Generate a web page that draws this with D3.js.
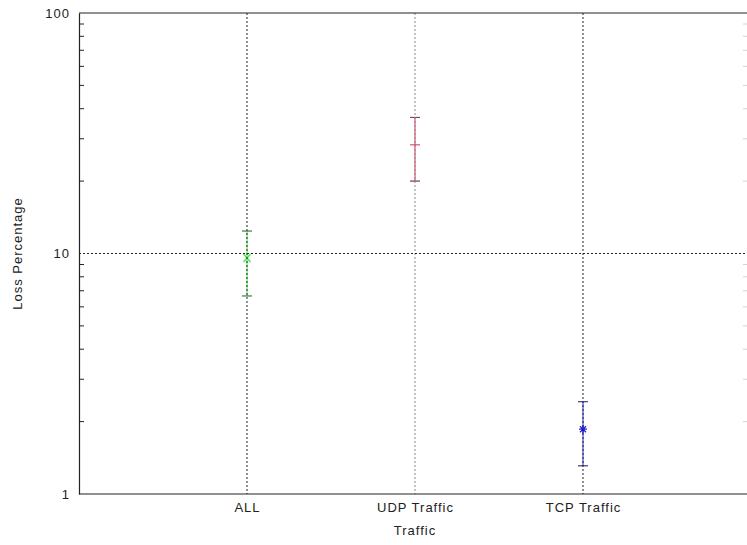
<!DOCTYPE html>
<html>
<head>
<meta charset="utf-8">
<script src="https://cdn.jsdelivr.net/npm/d3@7"></script>
<style>
  html, body { margin: 0; padding: 0; background: #fff; }
  svg { display: block; }
  text { font-family: "Liberation Sans", Arial, sans-serif; fill: #222; letter-spacing: 1px; }
</style>
</head>
<body>
<svg id="chart" width="747" height="545"></svg>
<script>
// Loss percentage per traffic class: lower bound, centre, upper bound
const categories = ["ALL", "UDP Traffic", "TCP Traffic"];
const lowValues  = [6.66, 20.0, 1.31];
const midValues  = [9.58, 28.3, 1.86];
const highValues = [12.4, 36.8, 2.42];
const seriesColors = ["#44e844", "#d83050", "#2222e0"];
const markerKinds = ["cross", "dash", "star"];
const yTickValues = [1, 10, 100];

const svg = d3.select("#chart");
const plotLeft = 79, plotTop = 13, plotBottom = 494, plotRight = 751;
const fontSize = "13px";

const x = d3.scaleLinear().domain([0, categories.length + 1]).range([plotLeft, plotRight]);
const y = d3.scaleLog().domain([1, 100]).range([plotBottom, plotTop]);

// minor tick positions for each decade
const minorTicks = [];
[1, 10].forEach(d => { for (let k = 2; k <= 9; k++) minorTicks.push(d * k); });

// error bars (drawn first so the dotted grid shows through them)
const bars = svg.append("g");
categories.forEach((c, i) => {
  const cx = x(i + 1), col = seriesColors[i];
  const g = bars.append("g").attr("stroke", col).attr("stroke-width", 1);
  g.append("line").attr("x1", cx).attr("x2", cx)
    .attr("y1", y(lowValues[i])).attr("y2", y(highValues[i]));
  [lowValues[i], highValues[i]].forEach(v => {
    g.append("line").attr("x1", cx - 5).attr("x2", cx + 5)
      .attr("y1", y(v)).attr("y2", y(v)).attr("stroke", "#444");
    g.append("line").attr("x1", cx - 5).attr("x2", cx + 5)
      .attr("y1", y(v)).attr("y2", y(v)).attr("stroke", col).attr("opacity", 0.45);
  });
  const cy = y(midValues[i]);
  const kind = markerKinds[i];
  if (kind === "dash") {
    g.append("line").attr("x1", cx - 5).attr("x2", cx + 5).attr("y1", cy).attr("y2", cy);
  } else if (kind === "cross") {
    g.append("path").attr("d", `M${cx - 3.5},${cy - 4}L${cx + 3.5},${cy + 4}M${cx + 3.5},${cy - 4}L${cx - 3.5},${cy + 4}`)
      .attr("stroke-width", 1.4);
  } else {
    g.append("path").attr("d",
      `M${cx - 4},${cy}L${cx + 4},${cy}M${cx},${cy - 4}L${cx},${cy + 4}` +
      `M${cx - 3},${cy - 3}L${cx + 3},${cy + 3}M${cx + 3},${cy - 3}L${cx - 3},${cy + 3}`)
      .attr("stroke-width", 1.3);
  }
});

// grid: dotted vertical lines at categories and horizontal at 10
const grid = svg.append("g");
categories.forEach((c, i) => {
  grid.append("line")
    .attr("x1", x(i + 1)).attr("x2", x(i + 1))
    .attr("y1", plotTop).attr("y2", plotBottom)
    .attr("stroke", i === 1 ? "#888" : "#222")
    .attr("stroke-width", 1)
    .attr("stroke-dasharray", "2,2");
});
grid.append("line")
  .attr("x1", plotLeft).attr("x2", plotRight)
  .attr("y1", y(10)).attr("y2", y(10))
  .attr("stroke", "#222").attr("stroke-dasharray", "2,2");

// frame
svg.append("line").attr("x1", plotLeft).attr("x2", plotRight).attr("y1", plotTop).attr("y2", plotTop)
  .attr("stroke", "#222").attr("stroke-width", 1.2);
svg.append("line").attr("x1", plotLeft).attr("x2", plotRight).attr("y1", plotBottom).attr("y2", plotBottom)
  .attr("stroke", "#222").attr("stroke-width", 1.2);

// left axis with inward minor ticks
const yAxis = d3.axisLeft(y).tickValues(yTickValues).tickFormat(d3.format("d"))
  .tickSize(0).tickPadding(9);
const gy = svg.append("g").attr("transform", `translate(${plotLeft},0)`).call(yAxis);
gy.select(".domain").attr("stroke", "#222").attr("stroke-width", 1.2);
gy.selectAll("text").style("font-size", fontSize).attr("fill", "#222")
  .style("font-family", "'Liberation Sans', Arial, sans-serif");
gy.selectAll(".minor").data(minorTicks).enter().append("line")
  .attr("x1", 0).attr("x2", 5)
  .attr("y1", d => y(d)).attr("y2", d => y(d))
  .attr("stroke", "#222");

// faint mirrored ticks on the right edge
svg.append("g").selectAll("line").data(minorTicks).enter().append("line")
  .attr("x1", 743).attr("x2", 747)
  .attr("y1", d => y(d)).attr("y2", d => y(d))
  .attr("stroke", "#d4d4d4");

// bottom axis labels
const xAxis = d3.axisBottom(x).tickValues(categories.map((c, i) => i + 1))
  .tickFormat((d) => categories[d - 1]).tickSize(0).tickPadding(9);
const gx = svg.append("g").attr("transform", `translate(0,${plotBottom})`).call(xAxis);
gx.select(".domain").remove();
gx.selectAll("text").style("font-size", fontSize).attr("fill", "#222")
  .style("font-family", "'Liberation Sans', Arial, sans-serif");

// axis titles
svg.append("text").attr("x", x(2)).attr("y", 535).attr("text-anchor", "middle")
  .style("font-size", fontSize).text("Traffic");
svg.append("text").attr("transform", `translate(22,${y(10)}) rotate(-90)`)
  .attr("text-anchor", "middle").style("font-size", fontSize).text("Loss Percentage");
</script>
</body>
</html>
